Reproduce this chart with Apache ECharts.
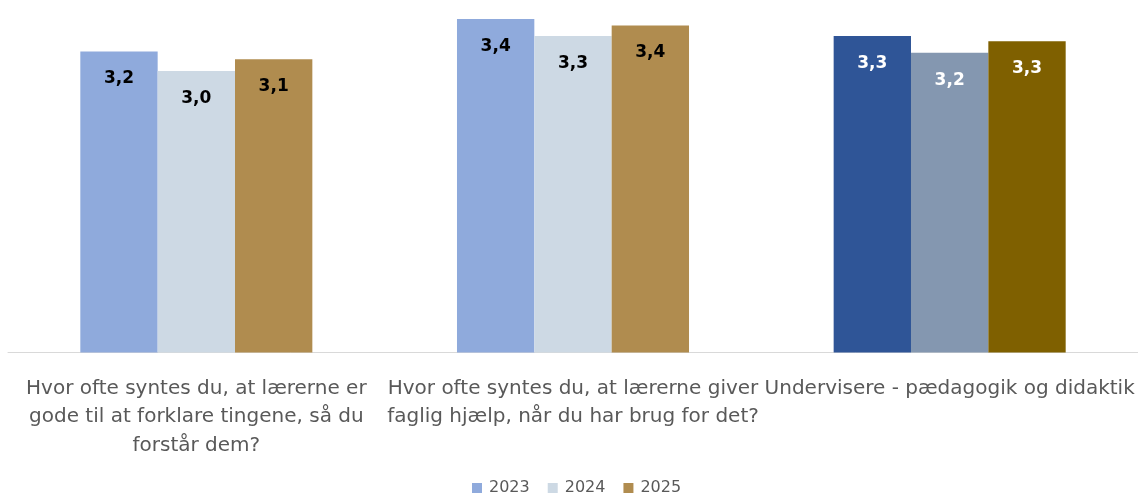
<!DOCTYPE html>
<html>
<head>
<meta charset="utf-8">
<script src="https://cdn.jsdelivr.net/npm/echarts@6/dist/echarts.min.js"></script>
<style>html,body{margin:0;padding:0;background:#fff}#c{width:1138px;height:498px}</style>
</head>
<body>
<div id="c"></div>
<script>
const categories = [
  "Hvor ofte syntes du, at lærerne er\ngode til at forklare tingene, så du\nforstår dem?",
  "Hvor ofte syntes du, at lærerne giver\nfaglig hjælp, når du har brug for det?",
  "Undervisere - pædagogik og didaktik"
];
const seriesNames = ["2023", "2024", "2025"];
const values2023 = [3.19, 3.44, 3.31];
const values2024 = [3.04, 3.31, 3.18];
const values2025 = [3.13, 3.39, 3.27];

const baseColors = ["#8FAADC", "#CDD9E4", "#B08C4F"];
const darkColors = ["#2F5597", "#8497B0", "#7F6000"];
const allValues = [values2023, values2024, values2025];

const chart = echarts.init(document.getElementById('c'));
const series = seriesNames.map((name, si) => ({
  name: name,
  type: 'bar',
  barGap: '0%',
  barCategoryGap: '38.4%',
  itemStyle: { color: baseColors[si] },
  data: allValues[si].map((v, ci) => ci === 2 ? {
    value: v,
    itemStyle: { color: darkColors[si] },
    label: { color: '#ffffff' }
  } : v),
  label: {
    show: true,
    position: 'insideTop',
    distance: 19,
    color: '#000000',
    fontFamily: 'DejaVu Sans',
    fontWeight: 'bold',
    fontSize: 17,
    formatter: p => (Math.round(p.value * 10) / 10).toFixed(1).replace('.', ',')
  }
}));

chart.setOption({
  animation: false,
  grid: { left: 8, right: 0, top: 5, bottom: 145.5, containLabel: false },
  legend: {
    top: 475,
    left: 467,
    itemWidth: 10,
    itemHeight: 10,
    itemGap: 18,
    icon: 'rect',
    textStyle: { color: '#595959', fontFamily: 'DejaVu Sans', fontSize: 16, padding: [0, 0, 0, 2] },
    data: seriesNames
  },
  xAxis: {
    type: 'category',
    data: categories,
    axisLine: { show: true, lineStyle: { color: '#D9D9D9', width: 1 } },
    axisTick: { show: false },
    axisLabel: {
      interval: 0,
      margin: 22,
      color: '#595959',
      fontFamily: 'DejaVu Sans',
      fontSize: 20,
      lineHeight: 28.5,
      align: 'center'
    }
  },
  yAxis: {
    type: 'value',
    min: 0.875,
    max: 3.548,
    show: false,
    splitLine: { show: false }
  },
  series: series
});
</script>
</body>
</html>
